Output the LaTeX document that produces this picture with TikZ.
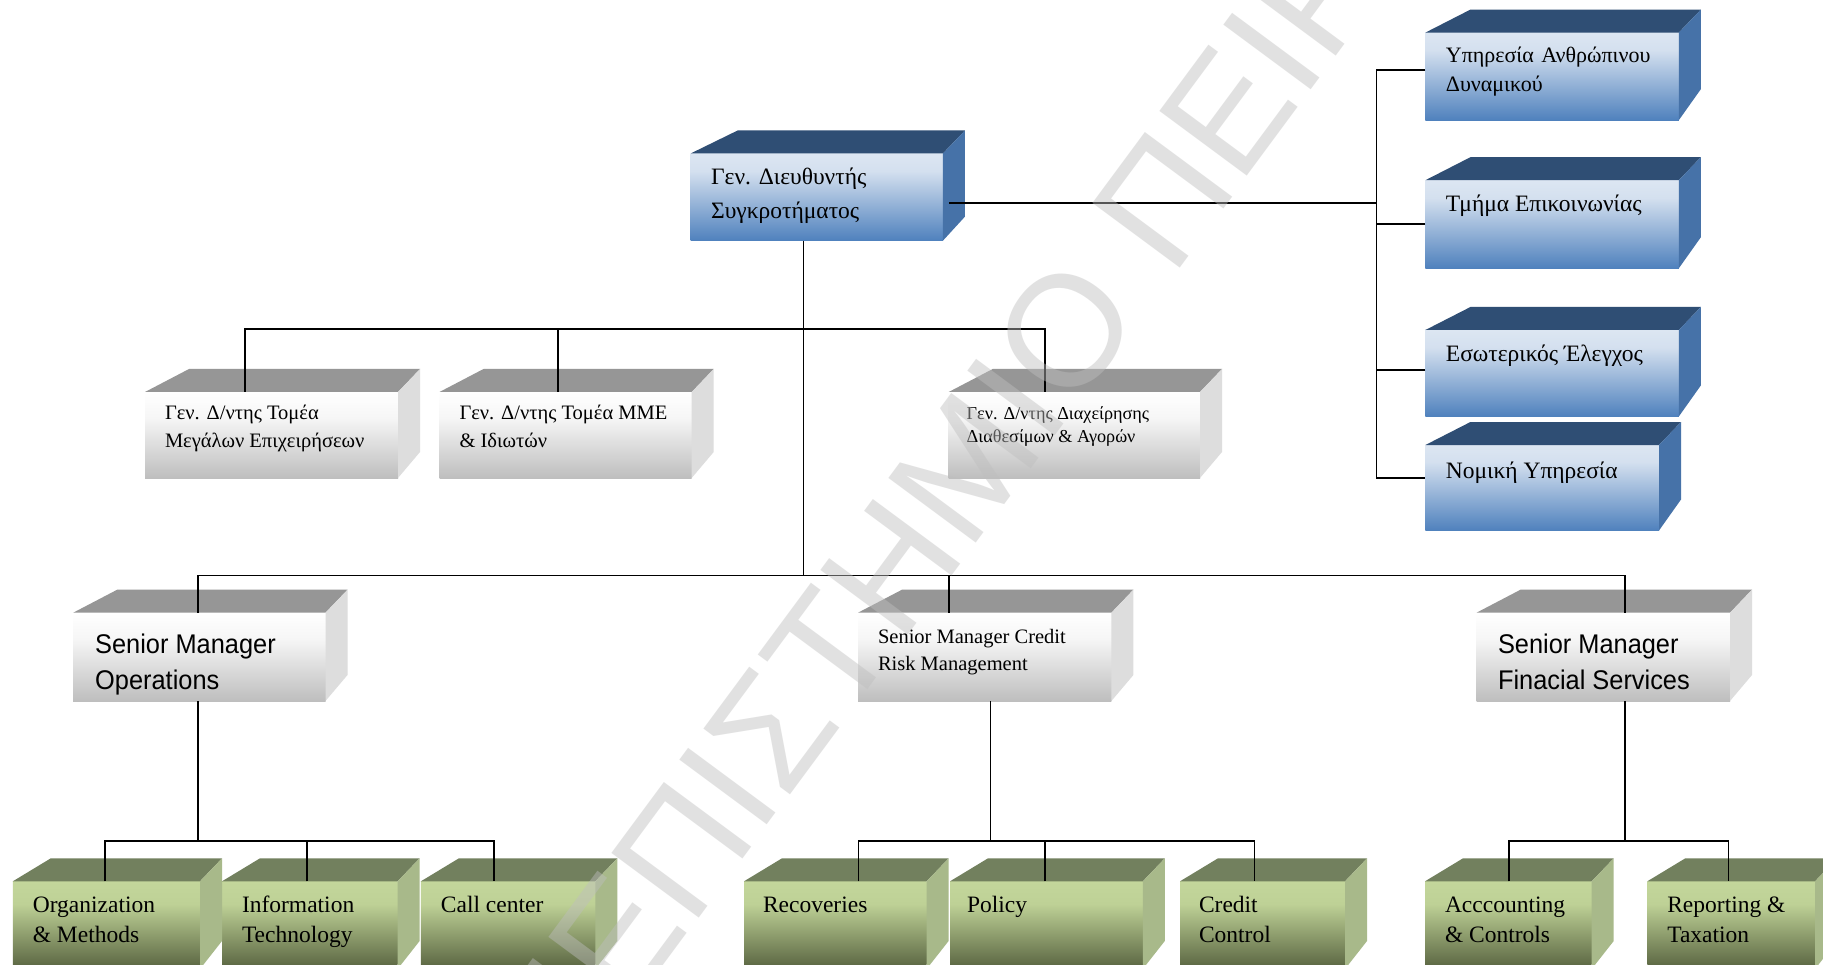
\documentclass[tikz,border=0pt]{standalone}
\usepackage{fontspec}
\setmainfont{Liberation Serif}
\newfontfamily\sansf{Liberation Sans}[FakeStretch=0.94]
\newfontfamily\markf{Liberation Sans}
\usetikzlibrary{calc,fit}

% face colours
\definecolor{bTop}{RGB}{47,78,116}
\definecolor{bSide}{RGB}{70,114,168}
\definecolor{bF1}{RGB}{220,230,242}
\definecolor{bF2}{RGB}{212,224,239}
\definecolor{bF3}{RGB}{79,129,189}
\definecolor{gTop}{RGB}{150,150,150}
\definecolor{gSide}{RGB}{221,221,221}
\definecolor{gF1}{RGB}{255,255,255}
\definecolor{gF2}{RGB}{246,246,246}
\definecolor{gF3}{RGB}{190,190,190}
\definecolor{vTop}{RGB}{114,128,94}
\definecolor{vSide}{RGB}{168,185,138}
\definecolor{vF1}{RGB}{195,214,155}
\definecolor{vF2}{RGB}{190,209,150}
\definecolor{vF3}{RGB}{88,99,64}
\definecolor{wmark}{RGB}{190,190,190}

\pgfdeclareverticalshading{blueface}{100bp}{color(0bp)=(bF3); color(25bp)=(bF3); color(65bp)=(bF2); color(75bp)=(bF1); color(100bp)=(bF1)}
\pgfdeclareverticalshading{greyface}{100bp}{color(0bp)=(gF3); color(25bp)=(gF3); color(60bp)=(gF2); color(75bp)=(gF1); color(100bp)=(gF1)}
\pgfdeclareverticalshading{greenface}{100bp}{color(0bp)=(vF3); color(25bp)=(vF3); color(62bp)=(vF2); color(75bp)=(vF1); color(100bp)=(vF1)}

\tikzset{
  face/.style={rectangle, draw=none, inner sep=0pt, outer sep=0pt, shade},
  bluefront/.style={face, shading=blueface},
  greyfront/.style={face, shading=greyface},
  greenfront/.style={face, shading=greenface},
  conn/.style={draw=black, line width=1.8pt},
  lbl/.style={anchor=base west, inner sep=0pt, outer sep=0pt, text=black},
  serifbig/.style={lbl, font=\fontsize{23.5}{30}\selectfont},
  serifmid/.style={lbl, font=\fontsize{20.5}{28}\selectfont},
  serifsmall/.style={lbl, font=\fontsize{18.2}{23.5}\selectfont},
  sansbig/.style={lbl, font=\sansf\fontsize{27}{36}\selectfont},
}

% top and side faces of a box whose front face is node #1
\newcommand\boxfaces[5]{%
  \fill[#2] (#1.north west) -- ++(#4,-23) -- ($(#1.north east)+(22,-23)$) -- (#1.north east) -- cycle;
  \fill[#3] (#1.north east) -- ++(22,-23) -- ($(#1.south east)+(22,-#5)$) -- (#1.south east) -- cycle;
}
\newcommand\lines[1]{\begin{tabular}[t]{@{}l@{}}#1\end{tabular}}

\begin{document}
\begin{tikzpicture}[x=1pt,y=-1pt]
\useasboundingbox (0,0) rectangle (1823,965);
\clip (0,0) rectangle (1823,965);
\fill[white] (0,0) rectangle (1823,965);

% ---- front faces ----
\node[bluefront, fit={(690.6,153.5) (942.9,240.7)}] (ceo) {};
\node[bluefront, fit={(1425.4,32.6) (1678.8,120.2)}] (hr1) {};
\node[bluefront, fit={(1425.4,180.2) (1678.8,268.3)}] (hr2) {};
\node[bluefront, fit={(1425.4,330) (1678.8,416.5)}] (hr3) {};
\node[bluefront, fit={(1425.4,445) (1659,530.5)}] (hr4) {};

\node[greyfront, fit={(145,392) (398,478)}] (gA) {};
\node[greyfront, fit={(439.5,392) (691.7,478)}] (gB) {};
\node[greyfront, fit={(948.7,392) (1200,478)}] (gC) {};

\node[greyfront, fit={(73.2,612.7) (325.5,701)}] (ops) {};
\node[greyfront, fit={(858,612.7) (1111.4,701)}] (crm) {};
\node[greyfront, fit={(1476.5,612.7) (1730,701)}] (fin) {};

\node[greenfront, fit={(12.8,881.3) (200,969)}] (g1) {};
\node[greenfront, fit={(222,881.3) (397.6,969)}] (g2) {};
\node[greenfront, fit={(420.9,881.3) (595.3,969)}] (g3) {};
\node[greenfront, fit={(744,881.3) (926.6,969)}] (g4) {};
\node[greenfront, fit={(950,881.3) (1142.8,969)}] (g5) {};
\node[greenfront, fit={(1180,881.3) (1345,969)}] (g6) {};
\node[greenfront, fit={(1425,881.3) (1591.7,969)}] (g7) {};
\node[greenfront, fit={(1647.3,881.3) (1815,969)}] (g8) {};

% ---- top and side faces ----
\boxfaces{ceo}{bTop}{bSide}{47}{24}
\foreach \n in {hr1,hr2,hr3,hr4} {\boxfaces{\n}{bTop}{bSide}{45}{31}}
\foreach \n in {gA,gB,gC,ops,crm,fin} {\boxfaces{\n}{gTop}{gSide}{44}{26}}
\foreach \n in {g1,g2,g3,g4,g5,g6,g7,g8} {\boxfaces{\n}{vTop}{vSide}{38}{28}}

% ---- connectors ----
\coordinate (b2) at (803.4,329);
\coordinate (b3) at (803.4,575.5);
\coordinate (hb) at (1376.5,203);
\draw[conn] (ceo.south -| b2) -- (b3);
\draw[conn] ([xshift=-26.2]gA.north) |- (b2) -| ([xshift=-29.2]gC.north);
\draw[conn] ([xshift=-7.6]gB.north) -- ([xshift=-7.6]gB.north |- b2);

\draw[conn] ([xshift=6]ceo.east |- hb) -- (hb);
\draw[conn] ([yshift=6.4]hr1.west) -- ([yshift=6.4]hr1.west -| hb)
  -- ([yshift=10]hr4.west -| hb) -- ([yshift=10]hr4.west);
\draw[conn] (hr2.west) -- (hr2.west -| hb);
\draw[conn] ([yshift=3.5]hr3.west) -- ([yshift=3.5]hr3.west -| hb);

\coordinate (b4a) at (197.6,840.6);
\coordinate (b4b) at (990.5,840.6);
\coordinate (b4c) at (1625.3,840.6);
\draw[conn] (ops.north -| b4a) |- (b3) -| (fin.north -| b4c);
\draw[conn] ([xshift=-36]crm.north) -- ([xshift=-36]crm.north |- b3);

\draw[conn] (ops.south -| b4a) -- (b4a);
\draw[conn] ([xshift=-1.8]g1.north) |- (b4a) -| ([xshift=-14]g3.north);
\draw[conn] ([xshift=-2.8]g2.north) -- ([xshift=-2.8]g2.north |- b4a);
\draw[conn] (crm.south -| b4b) -- (b4b);
\draw[conn] ([xshift=23.2]g4.north) |- (b4b) -| ([xshift=-8.1]g6.north);
\draw[conn] ([xshift=-1.2]g5.north) -- ([xshift=-1.2]g5.north |- b4b);
\draw[conn] (fin.south -| b4c) -- (b4c);
\draw[conn] ([xshift=0.6]g7.north) |- (b4c) -| ([xshift=-2.7]g8.north);

% ---- labels ----
\node[serifbig, font=\fontsize{23.5}{34}\selectfont] (tceo) at ($(ceo.north west)+(20.5,31.5)$) {\lines{Γεν. Διευθυντής\\Συγκροτήματος}};
\node[serifbig, font=\fontsize{22}{29}\selectfont] (thr1) at ($(hr1.north west)+(20.5,30)$) {\lines{Υπηρεσία\hspace{2pt} Ανθρώπινου\\Δυναμικού}};
\node[serifbig] (thr2) at ($(hr2.north west)+(20.5,31.5)$) {Τμήμα Επικοινωνίας};
\node[serifbig] (thr3) at ($(hr3.north west)+(20.5,31.5)$) {Εσωτερικός Έλεγχος};
\node[serifbig] (thr4) at ($(hr4.north west)+(20.5,33)$) {Νομική Υπηρεσία};

\node[serifmid] (tgA) at ($(gA.north west)+(20,28)$) {\lines{Γεν. Δ/ντης Τομέα\\Μεγάλων Επιχειρήσεων}};
\node[serifmid] (tgB) at ($(gB.north west)+(20,28)$) {\lines{Γεν. Δ/ντης Τομέα ΜΜΕ\\\& Ιδιωτών}};
\node[serifsmall] (tgC) at ($(gC.north west)+(18,27)$) {\lines{Γεν. Δ/ντης Διαχείρησης\\Διαθεσίμων \& Αγορών}};

\begin{scope}
  \clip (ops.north west) rectangle (ops.south east);
  \node[sansbig] (tops) at ($(ops.north west)+(22,41)$) {\lines{Senior Manager\\Operations}};
\end{scope}
\node[serifmid, font=\fontsize{20.5}{27}\selectfont] (tcrm) at ($(crm.north west)+(20,31)$) {\lines{Senior Manager Credit\\Risk Management}};
\begin{scope}
  \clip (fin.north west) rectangle (fin.south east);
  \node[sansbig] (tfin) at ($(fin.north west)+(21.5,41)$) {\lines{Senior Manager\\Finacial Services}};
\end{scope}

\node[serifbig] (tg1) at ($(g1.north west)+(20,31.3)$) {\lines{Organization\\\& Methods}};
\node[serifbig] (tg2) at ($(g2.north west)+(20,31.3)$) {\lines{Information\\Technology}};
\node[serifbig] (tg3) at ($(g3.north west)+(20,31.3)$) {Call center};
\node[serifbig] (tg4) at ($(g4.north west)+(19,31.3)$) {Recoveries};
\node[serifbig] (tg5) at ($(g5.north west)+(17,31.3)$) {Policy};
\node[serifbig] (tg6) at ($(g6.north west)+(19,31.3)$) {\lines{Credit\\Control}};
\node[serifbig] (tg7) at ($(g7.north west)+(20,31.3)$) {\lines{Acccounting\\\& Controls}};
\node[serifbig] (tg8) at ($(g8.north west)+(20,31.3)$) {\lines{Reporting \&\\Taxation}};

% ---- repository watermark ----
\node[rotate=53.5, anchor=base east, inner sep=0pt, text=wmark, text opacity=0.45,
      font=\markf\fontsize{158}{158}\selectfont] (wm) at (1146.1,313.2)
  {ΠΑΝΕΠΙΣΤΗΜΙΟ\rlap{ ΠΕΙΡΑΙΩΣ}};
\end{tikzpicture}
\end{document}
